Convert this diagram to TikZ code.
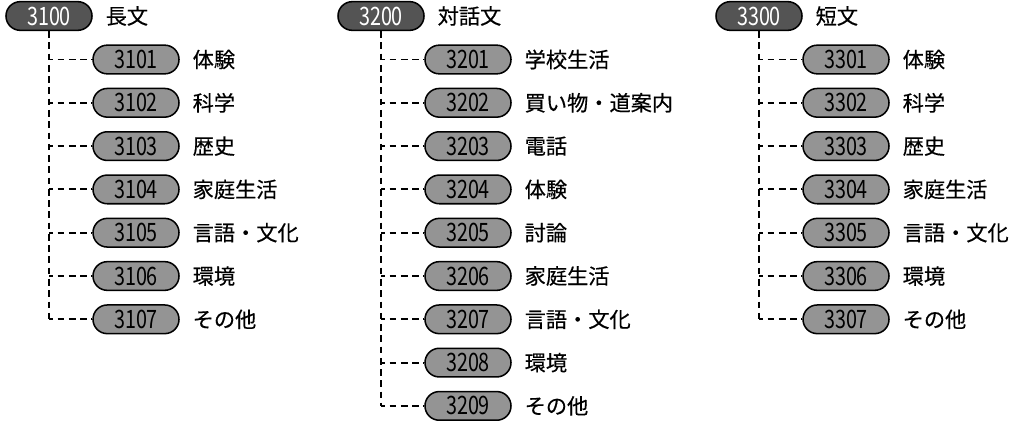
\documentclass[tikz,border=0pt]{standalone}
\usepackage{fontspec}
\setmainfont{Noto Sans CJK JP}[FakeBold=0.4]
\newfontfamily\numfont[FakeStretch=0.78]{Noto Sans CJK JP}
\usetikzlibrary{positioning}

\begin{document}
\begin{tikzpicture}[x=0.75pt,y=-0.75pt]
\tikzset{font=\fontsize{15.9}{17}\selectfont}
\tikzset{pill/.style={draw=black, line width=1.15pt, inner sep=0pt, minimum width=64.5pt, minimum height=21.5pt, rounded corners=10.7pt, font=\numfont\fontsize{19}{19}\selectfont}}
\tikzset{toppill/.style={pill, fill=black!67, text=white}}
\tikzset{subpill/.style={pill, fill=black!42, text=black}}
\tikzset{caption/.style={inner sep=0pt, anchor=west}}
\tikzset{branch/.style={draw, line width=1.4pt, dash pattern=on 5pt off 3.45pt}}
\useasboundingbox (0,0) rectangle (1010,421);
\foreach \code/\x/\title/\last/\items in {%
  3100/49/長文/7/{体験,科学,歴史,家庭生活,言語・文化,環境,その他},%
  3200/381/対話文/9/{学校生活,買い物・道案内,電話,体験,討論,家庭生活,言語・文化,環境,その他},%
  3300/759/短文/7/{体験,科学,歴史,家庭生活,言語・文化,環境,その他}} {
  \node[toppill] (r\code) at (\x,16) {\code};
  \node[caption, right=9.5pt of r\code] (t\code) {\title};
  \foreach \item [count=\i] in \items {
    \pgfmathtruncatemacro{\sub}{\code+\i}
    \node[subpill] (c\sub) at (\x+87,59.5+43.3*\i-43.3) {\sub};
    \node[caption, right=9.5pt of c\sub] (t\sub) {\item};
    \path[branch, dash phase=2pt] (r\code.south |- c\sub.west) -- (c\sub.west);
  }
  \pgfmathtruncatemacro{\sub}{\code+\last}
  \path[branch] (r\code.south) -- (r\code.south |- c\sub.west);
}
\end{tikzpicture}
\end{document}
